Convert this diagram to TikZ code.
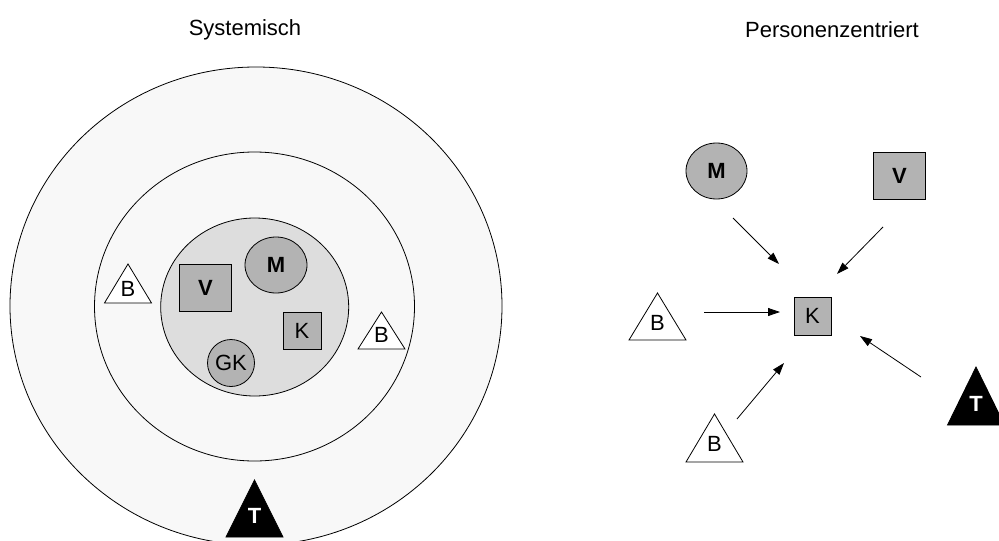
\documentclass[tikz,border=0pt]{standalone}
\usepackage{fontspec}
\setmainfont{Liberation Sans}
\usetikzlibrary{arrows.meta,shapes.geometric}

\definecolor{ringfill}{HTML}{F8F8F8}
\definecolor{corefill}{HTML}{DDDDDD}
\definecolor{itemfill}{HTML}{B3B3B3}

% triangle with its label: name, centre x, apex y, base y, half width, style, text
\newcommand\trinode[7]{%
  \draw[#6] (#2-#5,#4) -- (#2,#3) -- (#2+#5,#4) -- cycle;
  \node[#6 text] (#1) at (#2,{#3+0.63*(#4-#3)}) {#7};}

\begin{document}
\begin{tikzpicture}[x=1pt,y=-1pt,
  txt/.style={font=\fontsize{22}{26}\selectfont},
  btxt/.style={font=\fontsize{22}{26}\selectfont\bfseries},
  ring/.style={draw=black,line width=0.8pt,fill=ringfill},
  core/.style={draw=black,line width=0.8pt,fill=corefill},
  boxitem/.style={draw=black,line width=0.8pt,fill=itemfill,rectangle,inner sep=0pt},
  rounditem/.style={draw=black,line width=0.8pt,fill=itemfill,ellipse,inner sep=0pt},
  btri/.style={draw=black,line width=0.8pt,fill=white,line join=miter},
  btri text/.style={txt,inner sep=0pt},
  ttri/.style={draw=black,line width=0.8pt,fill=black,line join=miter},
  ttri text/.style={btxt,text=white,inner sep=0pt},
  arr/.style={line width=0.8pt,-{Triangle[length=12pt,width=8pt]}}]

\useasboundingbox (0,0) rectangle (999,541);
\clip (0,0) rectangle (999,541);

% titles
\node[txt] (t1) at (245,30) {Systemisch};
\node[txt] (t2) at (832,30) {Personenzentriert};

% systemic view: nested rings
\draw[ring] (256,306) ellipse [x radius=246, y radius=239];
\draw[ring] (254.5,306.5) ellipse [x radius=160, y radius=154.5];
\draw[core] (254.7,307) ellipse [x radius=94, y radius=89];

\node[boxitem,btxt,minimum width=52,minimum height=47] (sV) at (205.5,288) {V};
\node[rounditem,btxt,minimum width=62,minimum height=56] (sM) at (276,265) {M};
\node[boxitem,txt,minimum width=38,minimum height=37] (sK) at (302,330.5) {K};
\node[rounditem,txt,minimum width=47,minimum height=47] (sGK) at (231,363) {GK};

\trinode{sB1}{128}{264}{303}{23.5}{btri}{B}
\trinode{sB2}{381.5}{312}{349}{23.5}{btri}{B}
\trinode{sT}{254.5}{480}{537}{28.5}{ttri}{T}

% person-centred view
\node[rounditem,btxt,minimum width=61,minimum height=56] (pM) at (716.5,171) {M};
\node[boxitem,btxt,minimum width=52,minimum height=47] (pV) at (899.5,175.5) {V};
\node[boxitem,txt,minimum width=37,minimum height=38] (pK) at (812.5,316) {K};

\trinode{pB1}{657.5}{293}{340}{28.5}{btri}{B}
\trinode{pB2}{714.5}{414}{462}{28.5}{btri}{B}
\trinode{pT}{976}{367}{425}{28.5}{ttri}{T}

% arrow ends
\coordinate (aM0) at (733,218);  \coordinate (aM1) at (779,264);
\coordinate (aV0) at (883,227);  \coordinate (aV1) at (837,274);
\coordinate (aB0) at (704,312);  \coordinate (aB1) at (780,312);
\coordinate (aC0) at (737,419);  \coordinate (aC1) at (784,363);
\coordinate (aT0) at (921,377);  \coordinate (aT1) at (860,336);

\draw[arr] (aM0) -- (aM1);
\draw[arr] (aV0) -- (aV1);
\draw[arr] (aB0) -- (aB1);
\draw[arr] (aC0) -- (aC1);
\draw[arr] (aT0) -- (aT1);
\end{tikzpicture}
\end{document}
